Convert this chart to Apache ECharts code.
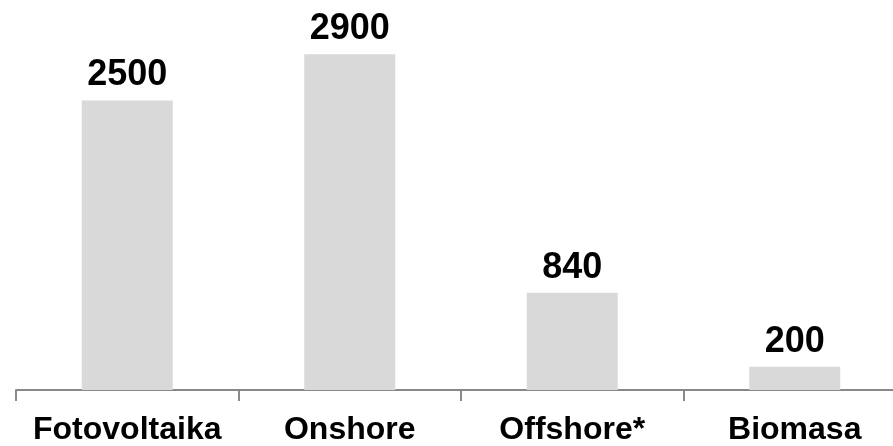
<!DOCTYPE html>
<html>
<head>
<meta charset="utf-8">
<style>
  html, body { margin: 0; padding: 0; background: #ffffff; overflow: hidden; }
  #wrap { width: 893px; height: 446px; overflow: hidden; }
  /* the plot's last category band runs past the right edge, so the canvas is wider than the view */
  #chart { width: 930px; height: 446px; }
</style>
<script src="https://cdn.jsdelivr.net/npm/echarts@6/dist/echarts.min.js"></script>
</head>
<body>
<div id="wrap"><div id="chart"></div></div>
<script>
// Installed capacity by technology
const categories = ['Fotovoltaika', 'Onshore', 'Offshore*', 'Biomasa'];
const values = [2500, 2900, 840, 200];

const chart = echarts.init(document.getElementById('chart'), null, { renderer: 'canvas' });

chart.setOption({
  animation: false,
  backgroundColor: '#ffffff',
  grid: {
    left: 16,
    top: 42.6,
    width: 890,
    height: 350.4,
    containLabel: false
  },
  xAxis: {
    type: 'category',
    data: categories,
    axisLine: { show: true, lineStyle: { color: '#898989', width: 2 } },
    axisTick: { show: true, length: 11, alignWithLabel: false, lineStyle: { color: '#898989', width: 2 } },
    axisLabel: {
      margin: 24,
      color: '#000000',
      fontFamily: 'Liberation Sans, Arial, sans-serif',
      fontWeight: 'bold',
      fontSize: 32,
      interval: 0
    },
    splitLine: { show: false }
  },
  yAxis: {
    type: 'value',
    min: 0,
    max: 3000,
    show: false,
    splitLine: { show: false }
  },
  series: [{
    type: 'bar',
    data: values,
    barWidth: 91,
    itemStyle: { color: '#d9d9d9' },
    label: {
      show: true,
      position: 'top',
      distance: 7,
      color: '#000000',
      fontFamily: 'Liberation Sans, Arial, sans-serif',
      fontWeight: 'bold',
      fontSize: 36
    }
  }]
});
</script>
</body>
</html>
